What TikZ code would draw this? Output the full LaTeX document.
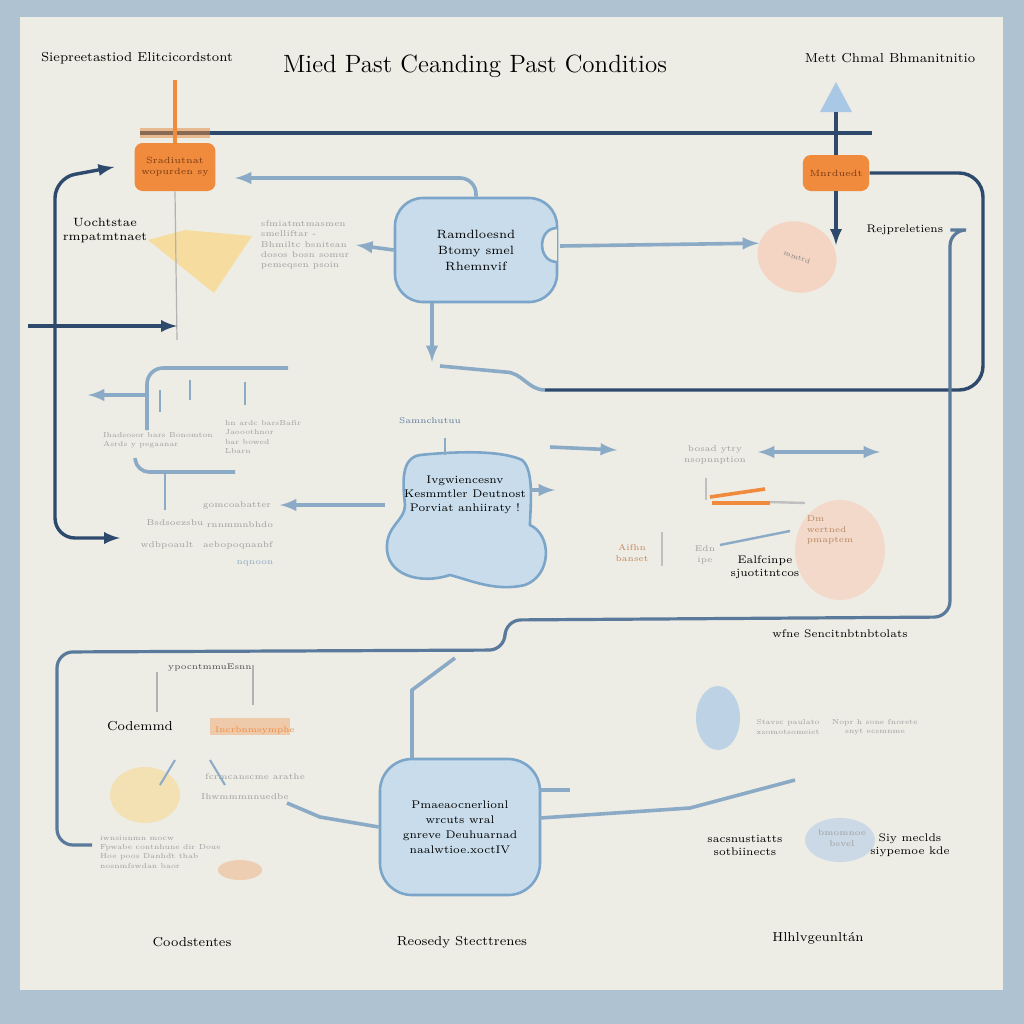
\documentclass[tikz,border=0pt]{standalone}
\usetikzlibrary{positioning,shapes.geometric}
\definecolor{framec}{HTML}{AFC2D2}
\definecolor{pagec}{HTML}{EDECE5}
\definecolor{navyc}{HTML}{2D4A6C}
\definecolor{steelc}{HTML}{5A7A9C}
\definecolor{palec}{HTML}{8AAAC6}
\definecolor{boxfill}{HTML}{C8DCEB}
\definecolor{boxline}{HTML}{7CA6C9}
\definecolor{orangec}{HTML}{F08B3E}
\definecolor{brownc}{HTML}{7A3A10}
\definecolor{yellowc}{HTML}{F6DD9F}
\definecolor{peachc}{HTML}{F4D5C3}
\definecolor{tric}{HTML}{A9C8E6}
\begin{document}
\begin{tikzpicture}[x=0.5pt,y=-0.5pt,>=latex,
  navy/.style={draw=navyc,line width=1.7pt},
  steel/.style={draw=steelc,line width=1.6pt},
  pale/.style={draw=palec,line width=1.8pt},
  thin/.style={draw=palec,line width=0.6pt},
  box/.style={draw=boxline,fill=boxfill,line width=1.3pt},
  obox/.style={fill=orangec,rounded corners=4pt,text=brownc,font=\fontsize{4.5}{5.5}\selectfont,align=center},
  lbl/.style={font=\fontsize{6.5}{7.5}\selectfont,align=center},
  fog/.style={font=\fontsize{4.2}{5.2}\selectfont,text=gray!75,align=center},
  fogs/.style={fog,font=\fontsize{3.6}{4.6}\selectfont}]
% page
\fill[framec] (0,0) rectangle (1024,1024);
\fill[pagec] (20,17) rectangle (1003,990);
\useasboundingbox (0,0) rectangle (1024,1024);

% headings
\node[font=\fontsize{12.5}{14}\selectfont] (title) at (475,66) {Mied Past Ceanding Past Conditios};
\node[lbl] (hdl) at (137,58) {Siepreetastiod Elitcicordstont};
\node[lbl] (hdr) at (890,58) {Mett Chmal Bhmanitnitio};

% top row
\node[obox,minimum width=35pt,minimum height=24pt] (obl) at (175,167) {Sradiutnat\\wopurden sy};
\node[obox,minimum width=31pt,minimum height=18pt] (obr) at (836,173) {Mnrduedt};
\coordinate (tl) at (140,133);
\coordinate (tr) at (872,133);
\draw[navy] (tl) -- (tr);
\fill[orangec!70!brown,opacity=.5] (140,128) rectangle (210,138);
\draw[orangec,line width=2.2pt] (obl.north) -- (175,80);
\fill[tric] (836,82) -- (852,112) -- (820,112) -- cycle;
\draw[navy] (836,112) -- (obr.north);
\draw[navy,->] (obr.south) -- (836,245);

\node[box,rounded corners=14pt,minimum width=81pt,minimum height=52pt,
  font=\fontsize{6}{8}\selectfont,align=center] (mb) at (476,250) {Ramdloesnd\\Btomy smel\\Rhemnvif};
\filldraw[draw=boxline,fill=pagec,line width=1.3pt] (557,228) to[out=180,in=180,looseness=1.5] (557,262);
\node[fog,align=left] (fogA) at (305,245) {sfmiatmtmasmen\\ smelliftar -\\Bhmiltc bsnitean\\dosos bosn somur\\pemeqsen psoin};
\node[lbl,font=\fontsize{6}{7}\selectfont] (uoch) at (105,230) {Uochtstae\\rmpatmtnaet};
\fill[yellowc] (148,240) -- (185,230) -- (252,236) -- (214,293) -- cycle;
\node[ellipse,fill=peachc,minimum width=40pt,minimum height=35pt,rotate=-20,
  font=\fontsize{3.5}{4}\selectfont,text=gray] (peach) at (797,257) {mmtrd};
\node[lbl,font=\fontsize{5.5}{6}\selectfont] (rej) at (905,230) {Rejpreletiens};

\draw[pale,->,rounded corners=8pt] (mb.north) |- (235,178);
\draw[pale,->] (mb.west) -- (fogA.east);
\draw[pale,->] (560,246) -- (peach.west);
\draw[pale,->] (432,303) -- (432,362);
\draw[thin,draw=gray!60] (obl.south) -- (177,340);
\coordinate (inl) at (28,326);
\draw[navy,->] (inl) -- (177,326);
\draw[navy,<->,rounded corners=10pt] ([xshift=-10pt]obl.west) -- (55,178) -- (55,538) -- (120,538);
\draw[navy,rounded corners=12pt] (obr.east) -| (983,390) -- (545,390);
\draw[pale] (545,390) to[out=180,in=0] (505,372) -- (440,366);
\draw[steel,rounded corners=8pt] (rej.east) -- (950,230) -- (950,617) -- (505,620) -- (505,650)
  -- (57,652) -- (57,845) -- (92,845);

% middle left group
\draw[pale,rounded corners=8pt] (288,368) -- (147,368) -- (147,430);
\draw[pale,->] (147,395) -- (88,395);
\draw[thin] (160,390) -- (160,412);
\draw[thin] (190,380) -- (190,400);
\draw[thin] (245,382) -- (245,405);
\node[fogs,align=left] (fogB) at (158,440) {Ihadsosor bars Bonomton\\Asrds y pegaanar};
\node[fogs,align=left,anchor=west] (fogC) at (218,437) {hn ardc barsBafir\\Jaooothnor\\bar bowed\\Lbarn};
\draw[pale,rounded corners=6pt] (135,458) -- (137,472) -- (235,472);
\draw[thin] (165,472) -- (165,510);
\node[fog] (fogD) at (175,523) {Bsdsoezsbu};
\node[fog] (fogE) at (167,545) {wdbpoault};
\node[fog] (fogF) at (237,505) {gomcoabatter};
\node[fog] (fogG) at (240,525) {rnnmmnbhdo};
\node[fog] (fogH) at (238,545) {aebopoqnanbf};
\node[fog,text=palec] (fogI) at (255,563) {nqnoon};

% cloud
\filldraw[box] (420,455) .. controls (470,450) and (505,452) .. (522,460)
  .. controls (535,470) and (530,510) .. (530,525)
  .. controls (552,535) and (552,575) .. (525,585)
  .. controls (495,592) and (470,580) .. (450,575)
  .. controls (420,585) and (385,575) .. (387,545)
  .. controls (388,525) and (405,520) .. (405,505)
  .. controls (403,485) and (400,458) .. (420,455) -- cycle;
\node[font=\fontsize{5.5}{7}\selectfont,align=center] (cloud) at (465,495) {Ivgwiencesnv\\Kesmmtler Deutnost\\Porviat anhiiraty !};
\node[fog,text=steelc] (samn) at (430,421) {Samnchutuu};
\draw[thin] (445,455) -- (445,438);
\draw[pale,->] (385,505) -- (280,505);
\draw[pale,->] (530,490) -- (555,490);
\draw[pale,->] (550,447) -- (617,450);

% middle right group
\node[ellipse,fill=peachc,opacity=.8,minimum width=45pt,minimum height=50pt] (peach2) at (840,550) {};
\node[fog] (bosad) at (715,455) {bosad ytry\\nsopnnption};
\draw[pale,<->] (758,452) -- (880,452);
\draw[orangec,line width=1.8pt] (710,497) -- (765,489);
\draw[orangec,line width=1.8pt] (712,503) -- (770,503);
\draw[thin,draw=gray!50,line width=1.2pt] (770,502) -- (805,503);
\draw[thin,draw=gray!50,line width=1.2pt] (706,478) -- (706,500);
\draw[thin,line width=1.2pt] (720,545) -- (790,531);
\draw[thin,draw=gray!50] (662,532) -- (662,566);
\node[fog,text=orangec!60!gray] (aifhn) at (632,553) {Aifhn\\banset};
\node[fog] (edn) at (705,555) {Edn\\ipe};
\node[lbl,font=\fontsize{5.5}{6.5}\selectfont] (ealf) at (765,567) {Ealfcinpe\\sjuotitntcos};
\node[fog,text=orangec!50!gray,align=left] (dm) at (830,530) {Dm\\wertned\\pmaptem};
\node[lbl,font=\fontsize{5.5}{6}\selectfont] (wfne) at (840,634) {wfne Sencitnbtnbtolats};

% bottom left group
\node[fog,text=black!70] (ypoc) at (210,667) {ypocntmmuEsnn};
\draw[thin,draw=gray!60] (157,672) -- (157,712);
\draw[thin,draw=gray!60] (253,665) -- (253,705);
\node[lbl] (code) at (140,726) {Codemmd};
\fill[orangec,opacity=.35] (210,718) rectangle (290,735);
\node[fog,text=orangec] (incr) at (255,730) {Incrbnmsymphe};
\fill[yellowc,opacity=.7] (145,795) ellipse (35 and 28);
\node[fog] (fcrm) at (255,777) {fcrmcanscme arathe};
\node[fog] (ihwm) at (245,797) {Ihwmmmnnuedbe};
\node[fogs,align=left,anchor=west] (iwns) at (93,852) {iwnsiunmn mocw\\Fpwabe contnhune dir Doue\\Hoe poos Danhdt thab\\nosnmfswdan baor};
\fill[orangec,opacity=.3] (240,870) ellipse (22 and 10);
\draw[thin,line width=1pt] (175,760) -- (160,785);
\draw[thin,line width=1pt] (210,760) -- (225,785);

% bottom box
\node[box,rounded corners=16pt,minimum width=80pt,minimum height=68pt,
  font=\fontsize{5.5}{7.5}\selectfont,align=center] (bb) at (460,827) {Pmaeaocnerlionl\\wrcuts wral\\gnreve Deuhuarnad\\naalwtioe.xoctIV};
\draw[pale] (287,803) -- (320,817) -- (bb.west);
\draw[pale] (412,758) -- (412,690) -- (455,658);
\draw[pale] (540,790) -- (570,790);
\draw[pale] (540,818) -- (690,808) -- (795,780);

% bottom right group
\fill[tric,opacity=.7] (718,718) ellipse (22 and 32);
\node[fogs] (stav) at (788,727) {Stavsc paulato\\xsomotsomeiet};
\node[fogs] (nopr) at (875,727) {Nopr h sone fnorete\\snyt ecsmnme};
\fill[tric,opacity=.5] (840,840) ellipse (35 and 22);
\node[lbl,font=\fontsize{5.5}{6.5}\selectfont] (sacs) at (745,845) {sacsnustiatts\\sotbiinects};
\node[fog] (bmom) at (842,838) {bmomnoe\\bsvel};
\node[lbl,font=\fontsize{5.5}{6.5}\selectfont] (siy) at (910,845) {Siy meclds\\siypemoe kde};

% footer labels
\node[lbl] (cood) at (192,942) {Coodstentes};
\node[lbl] (reos) at (462,942) {Reosedy Stecttrenes};
\node[lbl] (hlhl) at (818,938) {Hlhlvgeunlt\'an};
\end{tikzpicture}
\end{document}
